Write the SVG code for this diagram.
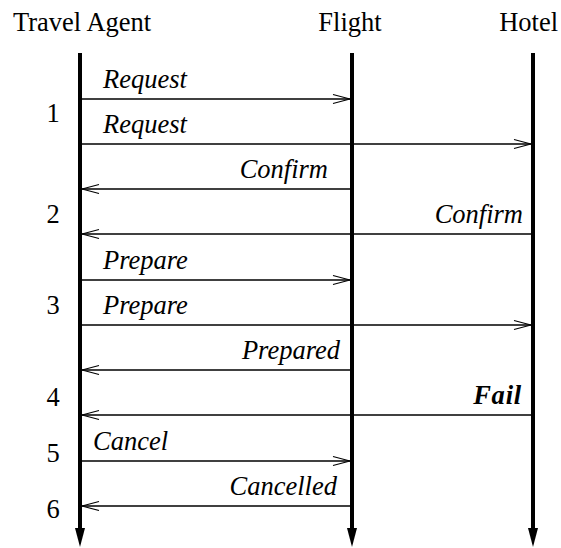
<svg xmlns="http://www.w3.org/2000/svg" width="561" height="548" viewBox="0 0 561 548">
  <style>
    .head { font-family: "Liberation Serif", "Times New Roman", serif; font-size: 26.5px; fill: #000; }
    .num { font-family: "Liberation Serif", "Times New Roman", serif; font-size: 26.5px; fill: #000; text-anchor: middle; }
    .life { stroke: #000; stroke-width: 4; }
    .msgline { stroke: #000; stroke-width: 1.3; fill: none; marker-end: url(#open); }
  </style>
  <defs>
    <marker id="open" markerUnits="userSpaceOnUse" markerWidth="20" markerHeight="12" viewBox="-18 -6 20 12" refX="0" refY="0" orient="auto">
      <path d="M-17,-4.5 L0,0 L-17,4.5" fill="none" stroke="#000" stroke-width="1.2"/>
    </marker>
  </defs>

  <rect width="561" height="548" fill="#fff"/>

  <!-- participants -->
  <g id="travel-agent">
    <text class="head" x="13" y="31">Travel Agent</text>
    <line class="life" x1="80" y1="53" x2="80" y2="530"/>
    <polygon points="75,528 85,528 80,547" fill="#000"/>
  </g>
  <g id="flight">
    <text class="head" x="350" y="31" text-anchor="middle">Flight</text>
    <line class="life" x1="352" y1="53" x2="352" y2="530"/>
    <polygon points="347,528 357,528 352,547" fill="#000"/>
  </g>
  <g id="hotel">
    <text class="head" x="558" y="31" text-anchor="end">Hotel</text>
    <line class="life" x1="533" y1="53" x2="533" y2="530"/>
    <polygon points="528,528 538,528 533,547" fill="#000"/>
  </g>

  <!-- step numbers -->
  <g id="steps">
    <text class="num" x="53" y="122">1</text>
    <text class="num" x="53" y="223">2</text>
    <text class="num" x="53" y="314">3</text>
    <text class="num" x="53" y="406">4</text>
    <text class="num" x="53" y="462">5</text>
    <text class="num" x="53" y="518">6</text>
  </g>

  <!-- messages -->
  <g id="connectors">
    <line class="msgline" x1="82" y1="99" x2="350" y2="99"/>
    <line class="msgline" x1="82" y1="144" x2="531" y2="144"/>
    <line class="msgline" x1="350" y1="189" x2="82" y2="189"/>
    <line class="msgline" x1="531" y1="234" x2="82" y2="234"/>
    <line class="msgline" x1="82" y1="280" x2="350" y2="280"/>
    <line class="msgline" x1="82" y1="325" x2="531" y2="325"/>
    <line class="msgline" x1="350" y1="370" x2="82" y2="370"/>
    <line class="msgline" x1="531" y1="415" x2="82" y2="415"/>
    <line class="msgline" x1="82" y1="461" x2="350" y2="461"/>
    <line class="msgline" x1="350" y1="506" x2="82" y2="506"/>
  </g>

  <!-- message labels, serif italic -->
  <g id="labels" font-family="'Liberation Serif', 'Times New Roman', serif" font-size="26.5" font-style="italic" fill="#000">
    <text x="103" y="88">Request</text>
    <text x="103" y="133">Request</text>
    <text x="328" y="178" text-anchor="end">Confirm</text>
    <text x="523" y="223" text-anchor="end">Confirm</text>
    <text x="103" y="269">Prepare</text>
    <text x="103" y="314">Prepare</text>
    <text x="340" y="359" text-anchor="end">Prepared</text>
    <text x="522" y="404" text-anchor="end" font-weight="bold" letter-spacing="0.8">Fail</text>
    <text x="93" y="450">Cancel</text>
    <text x="337" y="495" text-anchor="end">Cancelled</text>
  </g>
</svg>
